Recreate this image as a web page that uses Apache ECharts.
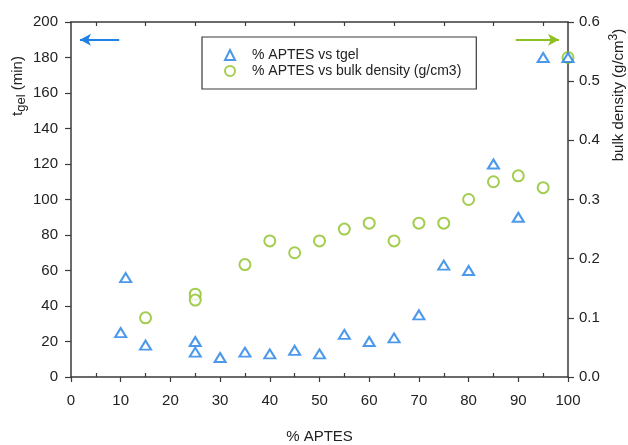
<!DOCTYPE html>
<html>
<head>
<meta charset="utf-8">
<script src="https://cdn.jsdelivr.net/npm/echarts@6/dist/echarts.min.js"></script>
<style>
  html, body { margin: 0; padding: 0; background: #fff; }
  #main { width: 628px; height: 445px; }
</style>
</head>
<body>
<div id="main"></div>
<script>
// % APTES vs tgel (left axis)
var aptesT = [10, 11, 15, 25, 25, 30, 35, 40, 45, 50, 55, 60, 65, 70, 75, 80, 85, 90, 95, 100];
var tgel = [25, 56, 18, 20, 14, 11, 14, 13, 15, 13, 24, 20, 22, 35, 63, 60, 120, 90, 180, 180];
// % APTES vs bulk density (right axis)
var aptesD = [15, 25, 25, 35, 40, 45, 50, 55, 60, 65, 70, 75, 80, 85, 90, 95, 100];
var density = [0.10, 0.14, 0.13, 0.19, 0.23, 0.21, 0.23, 0.25, 0.26, 0.23, 0.26, 0.26, 0.30, 0.33, 0.34, 0.32, 0.54];
// minor ticks on the x axis (5, 15, ... 95)
var minorX = [5, 15, 25, 35, 45, 55, 65, 75, 85, 95];

var blue = '#1f80e6';
var green = '#8cc023';
var axisColor = '#3a3a3a';
var textColor = '#222';
var font = 'Liberation Sans, Arial, sans-serif';

function pairs(xs, ys) {
    var out = [];
    for (var i = 0; i < xs.length; i++) {
        out.push([xs[i], ys[i]]);
    }
    return out;
}

var myChart = echarts.init(document.getElementById('main'));

var option = {
    animation: false,
    textStyle: { fontFamily: font },
    grid: { left: 71, right: 60, top: 22, bottom: 68, outerBoundsMode: 'none', containLabel: false },
    legend: {
        orient: 'vertical',
        left: 202,
        top: 37,
        padding: [11, 15, 11, 22],
        itemWidth: 10,
        itemHeight: 10,
        itemGap: 2,
        backgroundColor: '#fff',
        borderColor: axisColor,
        borderWidth: 1.2,
        borderRadius: 0,
        textStyle: { fontSize: 14, color: textColor, padding: [0, 0, 0, 12] },
        data: ['% APTES vs tgel', '% APTES vs bulk density (g/cm3)']
    },
    xAxis: [
        {
            type: 'value',
            position: 'bottom',
            min: 0,
            max: 100,
            interval: 10,
            name: '% APTES',
            nameLocation: 'middle',
            nameGap: 52,
            nameTextStyle: { fontSize: 15, color: textColor },
            axisLine: { onZero: false, lineStyle: { color: axisColor, width: 1.5 } },
            axisTick: { length: 5, lineStyle: { color: axisColor, width: 1.2 } },
            axisLabel: { fontSize: 15, color: textColor, margin: 16 },
            splitLine: { show: false }
        },
        {
            // top frame with inward minor ticks
            type: 'value',
            position: 'top',
            min: 0,
            max: 100,
            axisLine: { onZero: false, lineStyle: { color: axisColor, width: 1.5 } },
            axisTick: { inside: true, length: 4, customValues: minorX, lineStyle: { color: axisColor, width: 1.2 } },
            axisLabel: { show: false },
            splitLine: { show: false }
        },
        {
            // inward minor ticks on bottom axis
            type: 'value',
            position: 'bottom',
            min: 0,
            max: 100,
            axisLine: { show: false, onZero: false },
            axisTick: { inside: true, length: 4, customValues: minorX, lineStyle: { color: axisColor, width: 1.2 } },
            axisLabel: { show: false },
            splitLine: { show: false }
        }
    ],
    yAxis: [
        {
            type: 'value',
            position: 'left',
            min: 0,
            max: 200,
            interval: 20,
            axisLine: { show: true, onZero: false, lineStyle: { color: axisColor, width: 1.5 } },
            axisTick: { show: true, length: 6, lineStyle: { color: axisColor, width: 1.2 } },
            axisLabel: { fontSize: 15, color: textColor, margin: 13 },
            splitLine: { show: false }
        },
        {
            type: 'value',
            position: 'right',
            min: 0,
            max: 0.6,
            interval: 0.1,
            axisLine: { show: true, onZero: false, lineStyle: { color: axisColor, width: 1.5 } },
            axisTick: { show: true, length: 6, lineStyle: { color: axisColor, width: 1.2 } },
            axisLabel: {
                fontSize: 15, color: textColor, margin: 11,
                formatter: function (v) { return v.toFixed(1); }
            },
            splitLine: { show: false }
        }
    ],
    graphic: [
        {
            type: 'text',
            x: 18,
            y: 86,
            rotation: Math.PI / 2,
            style: {
                text: '{a|t}{b|gel}{a| (min)}',
                align: 'center',
                verticalAlign: 'middle',
                fill: textColor,
                rich: {
                    a: { fontSize: 15, fontFamily: font, fill: textColor, lineHeight: 20, verticalAlign: 'middle' },
                    b: { fontSize: 13, fontFamily: font, fill: textColor, lineHeight: 13, verticalAlign: 'bottom' }
                }
            }
        },
        {
            type: 'text',
            x: 619,
            y: 95,
            rotation: Math.PI / 2,
            style: {
                text: '{a|bulk density (g/cm}{s|3}{a|)}',
                align: 'center',
                verticalAlign: 'middle',
                fill: textColor,
                rich: {
                    a: { fontSize: 15, fontFamily: font, fill: textColor, lineHeight: 22, verticalAlign: 'middle' },
                    s: { fontSize: 12, fontFamily: font, fill: textColor, lineHeight: 12, verticalAlign: 'top' }
                }
            }
        }
    ],
    series: [
        {
            name: '% APTES vs bulk density (g/cm3)',
            type: 'scatter',
            xAxisIndex: 0,
            yAxisIndex: 1,
            symbol: 'emptyCircle',
            symbolSize: 11,
            itemStyle: { color: green, borderColor: green, borderWidth: 2 },
            data: pairs(aptesD, density),
            markLine: {
                silent: true,
                symbol: ['none', 'arrow'],
                symbolSize: [9, 11],
                label: { show: false },
                lineStyle: { color: green, width: 2, type: 'solid' },
                data: [[{ coord: [89.5, 0.57] }, { coord: [98.2, 0.57] }]]
            }
        },
        {
            name: '% APTES vs tgel',
            type: 'scatter',
            xAxisIndex: 0,
            yAxisIndex: 0,
            symbol: 'emptyTriangle',
            symbolSize: [11, 9],
            itemStyle: { color: blue, borderColor: blue, borderWidth: 2 },
            data: pairs(aptesT, tgel),
            markLine: {
                silent: true,
                symbol: ['none', 'arrow'],
                symbolSize: [9, 11],
                label: { show: false },
                lineStyle: { color: blue, width: 2, type: 'solid' },
                data: [[{ coord: [9.7, 190] }, { coord: [1.8, 190] }]]
            }
        }
    ]
};

myChart.setOption(option);
</script>
</body>
</html>
